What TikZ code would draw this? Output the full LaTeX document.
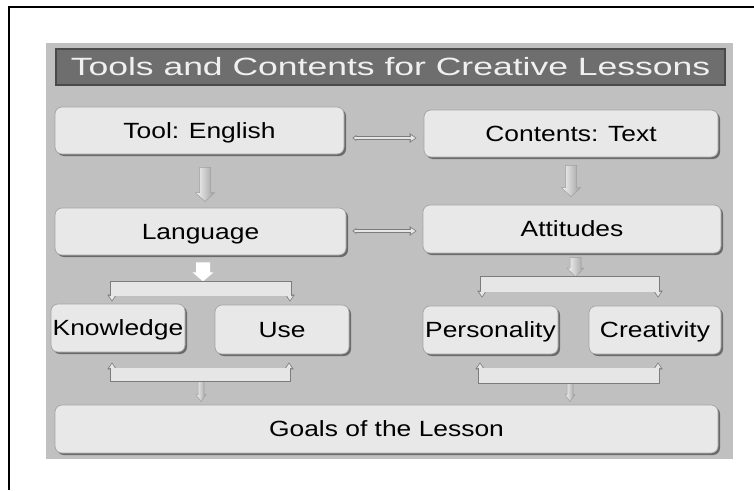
\documentclass[tikz,border=0pt]{standalone}
\usepackage{fontspec}
\setmainfont[FakeStretch=1.2]{Liberation Sans}
\newfontfamily\titlefont[FakeStretch=1.42]{Liberation Sans}
\usetikzlibrary{arrows.meta,calc,shadows}
\definecolor{panel}{HTML}{C0C0C0}
\definecolor{boxfill}{HTML}{E8E8E8}
\definecolor{boxedge}{HTML}{A4A4A4}
\definecolor{shade}{HTML}{6A6A6A}
\definecolor{titlefill}{HTML}{6E6E6E}
\definecolor{titleedge}{HTML}{4A4A4A}
\definecolor{titletext}{HTML}{F0F0F0}
\definecolor{pipeedge}{HTML}{7C7C7C}
\definecolor{pipefill}{HTML}{E6E6E6}
\newcommand\pipedraw[3]{\draw[pipeo,#1] #3; \draw[pipei,#2] #3;}
% block arrow pointing down: #1 start, #2 apex, #3 half shaft, #4 half head, #5 head length
\newcommand\blockdown[5]{%
  \path[blockarrow] ($(#1)+(-#3,0)$) -- ($(#1)+(#3,0)$) -- ($(#2)+(#3,-#5)$)
    -- ($(#2)+(#4,-#5)$) -- (#2) -- ($(#2)+(-#4,-#5)$) -- ($(#2)+(-#3,-#5)$) -- cycle;}
\begin{document}
\begin{tikzpicture}[x=1pt,y=-1pt,
  box/.style={rounded corners=7pt, fill=boxfill, draw=boxedge, line width=0.7pt,
    inner sep=0pt, text=black, font=\fontsize{22}{26}\selectfont,
    text height=15.5pt, text depth=0pt,
    drop shadow={shadow xshift=2pt, shadow yshift=-2pt, fill=shade, opacity=1}},
  titlebar/.style={fill=titlefill, draw=titleedge, line width=1.5pt, inner sep=0pt,
    text=titletext, font=\titlefont\fontsize{25}{30}\selectfont},
  pipeo/.style={draw=pipeedge, fill=pipeedge, line width=4.2pt, line join=miter,
    >={Triangle[width=9pt,length=7pt]}},
  pipei/.style={draw=pipefill, fill=pipefill, line width=2.2pt, line join=miter,
    >={Triangle[width=5.5pt,length=4.5pt]}, shorten >=1.3pt, shorten <=1.3pt},
  blockarrow/.style={draw=gray!75, line width=0.5pt, left color=white!92!gray,
    middle color=white, right color=gray!75}]
\useasboundingbox (0,0) rectangle (754,490);
% outer frame
\draw[line width=1.5pt] (9,490) -- (9,7) -- (754,7);
% panel
\fill[panel] (46,43) rectangle (733,459);
% title
\node[titlebar, minimum width=669pt, minimum height=36pt] (title) at (390.5,67) {Tools and Contents for Creative Lessons};
% boxes
\node[box, minimum width=289pt, minimum height=47pt] (tool) at (199.5,130.5) {Tool: English};
\node[box, minimum width=294pt, minimum height=47pt] (cont) at (571,133.5) {Contents: Text};
\node[box, minimum width=291pt, minimum height=47pt] (lang) at (200.5,231.5) {Language};
\node[box, minimum width=298pt, minimum height=48pt] (att) at (572,229) {Attitudes};
\node[box, minimum width=134pt, minimum height=48pt] (know) at (118,328) {Knowledge};
\node[box, minimum width=134pt, minimum height=49pt] (use) at (282,329.5) {Use};
\node[box, minimum width=135pt, minimum height=48pt] (pers) at (490.5,330) {Personality};
\node[box, minimum width=132pt, minimum height=48pt] (crea) at (655,330) {Creativity};
\node[box, minimum width=663pt, minimum height=48pt] (goals) at (386.5,429) {Goals of the Lesson};
% bracket coordinates
\coordinate (lb1) at (112,283);
\coordinate (lb2) at (290,283);
\coordinate (lb3) at (112,380);
\coordinate (lb4) at (289,380);
\coordinate (lm) at (201,381);
\coordinate (rb1) at (482,278);
\coordinate (rb2) at (658,278);
\coordinate (rm1) at (575.5,278);
\coordinate (rb3) at (480,382);
\coordinate (rb4) at (658,382);
\coordinate (rm2) at (570,383);
% block arrows
\coordinate (a1s) at ($(tool.south)+(5.5,13)$);
\coordinate (a1e) at ($(a1s |- lang.north)+(0,-6)$);
\blockdown{a1s}{a1e}{5.5}{9.5}{9}
\coordinate (a2s) at ($(cont.south)+(0,8)$);
\coordinate (a2e) at ($(a2s |- att.north)+(0,-8)$);
\blockdown{a2s}{a2e}{5.5}{9.5}{9}
\coordinate (a3s) at ($(att.south)+(3.5,4)$);
\coordinate (a3e) at ($(rm1)+(0,-1)$);
\blockdown{a3s}{a3e}{5.5}{8.5}{9}
\coordinate (a4e) at ($(lm |- goals.north)+(0,-3)$);
\blockdown{lm}{a4e}{3}{5}{7}
\coordinate (a5e) at ($(rm2 |- goals.north)+(0,-3)$);
\blockdown{rm2}{a5e}{3}{5}{7}
% horizontal double arrows
\pipedraw{{Triangle[width=6pt,length=4pt]}-{Triangle[width=9pt,length=7pt]}}{{Triangle[width=3pt,length=2.5pt]}-{Triangle[width=5.5pt,length=4.5pt]}}{($(tool.east)+(8,7.5)$) -- ($(cont.west)+(-7,4.5)$)}
\pipedraw{{Triangle[width=6pt,length=4pt]}-{Triangle[width=9pt,length=7pt]}}{{Triangle[width=3pt,length=2.5pt]}-{Triangle[width=5.5pt,length=4.5pt]}}{($(lang.east)+(6,-0.5)$) -- ($(att.west)+(-6,2)$)}
% fat white arrow under Language
\coordinate (fa) at ($(lang.south)+(2.5,7)$);
\fill[white] ($(fa)+(-7,0)$) -- ($(fa)+(7,0)$) -- ($(fa)+(7,10)$) -- ($(fa)+(10.5,10)$)
  -- ($(fa)+(0,19)$) -- ($(fa)+(-10.5,10)$) -- ($(fa)+(-7,10)$) -- cycle;
% left brackets
\pipedraw{<->}{<->}{($(lb1 |- know.north)+(0,-2)$) -- (lb1) -- (lb2) -- ($(lb2 |- use.north)+(0,-3)$)}
\pipedraw{<->}{<->}{($(lb3 |- know.south)+(0,10)$) -- (lb3) -- (lb4) -- ($(lb4 |- use.south)+(0,8)$)}
% right brackets
\pipedraw{<->}{<->}{($(rb1 |- pers.north)+(0,-8)$) -- (rb1) -- (rb2) -- ($(rb2 |- crea.north)+(0,-8)$)}
\pipedraw{<->}{<->}{($(rb3 |- pers.south)+(0,8)$) -- (rb3) -- (rb4) -- ($(rb4 |- crea.south)+(0,8)$)}
\end{tikzpicture}
\end{document}
